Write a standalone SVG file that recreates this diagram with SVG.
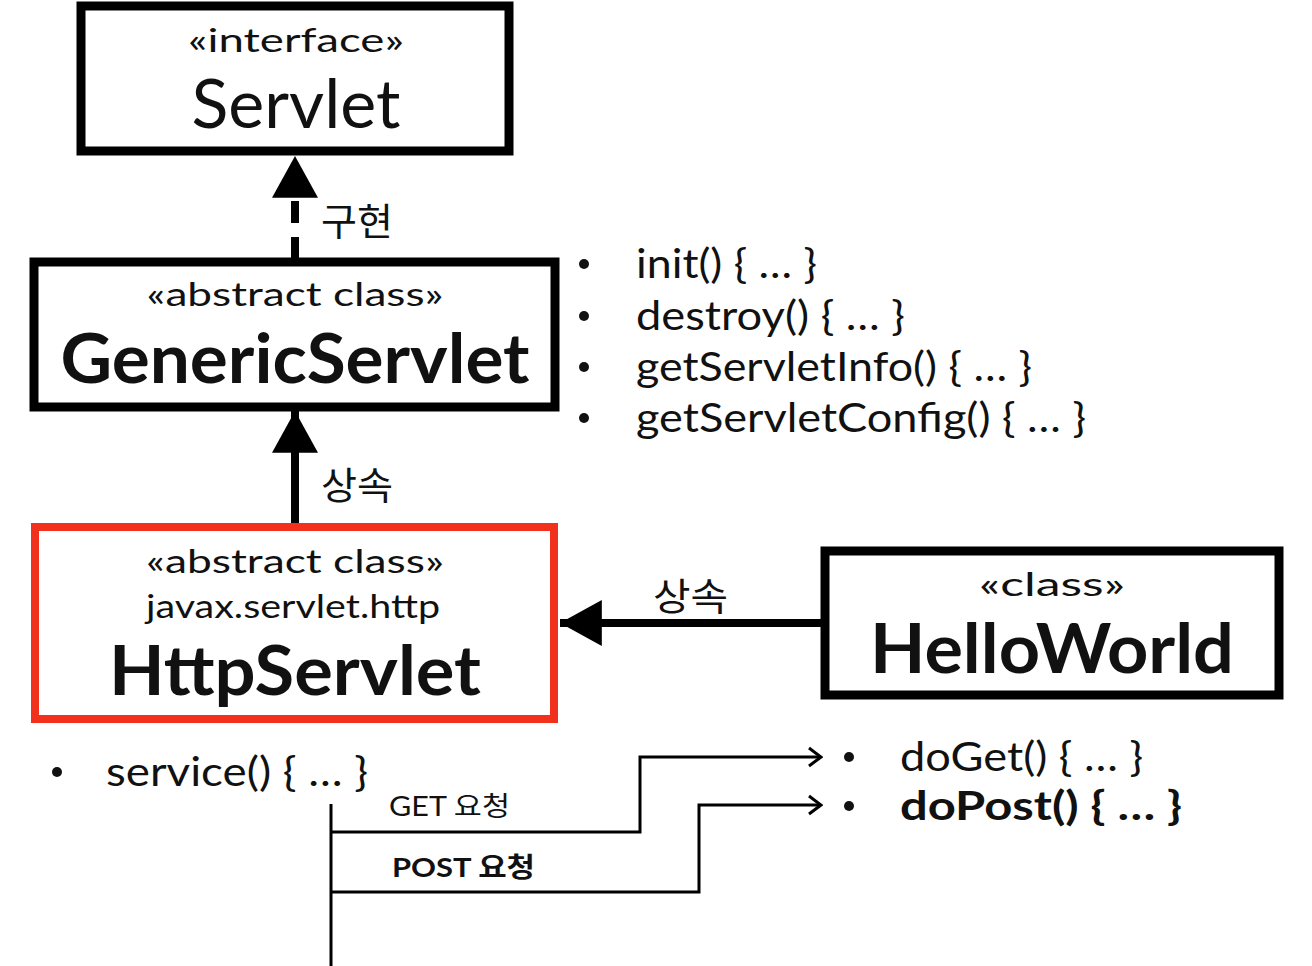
<svg xmlns="http://www.w3.org/2000/svg" width="1312" height="966" viewBox="0 0 1312 966">
<style>
text{font-family:Lato,"Noto Sans","Noto Sans CJK KR",sans-serif;fill:#111;}
.ko{font-family:"Noto Sans CJK KR","Noto Sans",sans-serif;}
.st{font-size:32px;text-anchor:middle;}
.title{font-size:68px;text-anchor:middle;}
.b{font-weight:bold;}
.m{font-size:41px;}
.lbl{font-size:38px;}
.small{font-size:27px;}
.box{fill:#fff;stroke:#000;stroke-width:9;}
.red{fill:#fff;stroke:#f2311c;stroke-width:8;}
.conn{fill:none;stroke:#000;stroke-width:8;}
.thin{fill:none;stroke:#000;stroke-width:3;}
.dot{fill:#111;}
</style>
<defs>
<marker id="tri" markerUnits="userSpaceOnUse" markerWidth="44" markerHeight="46" viewBox="0 0 40 44" refX="40" refY="22" orient="auto">
<path d="M0,0 L40,22 L0,44 Z" fill="#000"/>
</marker>
<marker id="open" markerUnits="userSpaceOnUse" markerWidth="16" markerHeight="22" viewBox="0 0 16 22" refX="14" refY="11" orient="auto">
<path d="M2,2 L14,11 L2,20" fill="none" stroke="#000" stroke-width="3"/>
</marker>
</defs>
<rect width="1312" height="966" fill="#fff"/>

<g id="connectors">
<path class="conn" d="M295,258 V156" stroke-dasharray="21 14 22 14" marker-end="url(#tri)"/>
<path class="conn" d="M295,523 V411" marker-end="url(#tri)"/>
<path class="conn" d="M821,623 H560" marker-end="url(#tri)"/>
<path class="thin" d="M331,804 V966"/>
<path class="thin" d="M331,832 H640 V757 H821" marker-end="url(#open)"/>
<path class="thin" d="M331,892 H699 V805 H821" marker-end="url(#open)"/>
<text class="ko lbl" x="321" y="235" textLength="72" lengthAdjust="spacingAndGlyphs">구현</text>
<text class="ko lbl" x="321" y="499" textLength="72" lengthAdjust="spacingAndGlyphs">상속</text>
<text class="ko lbl" x="653" y="610" textLength="75" lengthAdjust="spacingAndGlyphs">상속</text>
<text class="small" x="389" y="816" textLength="121" lengthAdjust="spacingAndGlyphs">GET <tspan class="ko">요청</tspan></text>
<text class="small b" x="392" y="877" textLength="143" lengthAdjust="spacingAndGlyphs">POST <tspan class="ko">요청</tspan></text>
</g>

<g id="servlet">
<rect class="box" x="81" y="6" width="428" height="145"/>
<text class="st" x="296" y="52" textLength="216" lengthAdjust="spacingAndGlyphs">«interface»</text>
<text class="title" x="296" y="128" textLength="209" lengthAdjust="spacingAndGlyphs">Servlet</text>
</g>

<g id="genericservlet">
<rect class="box" x="34" y="262" width="521" height="145"/>
<text class="st" x="295" y="306" textLength="297" lengthAdjust="spacingAndGlyphs">«abstract class»</text>
<text class="title b" x="295" y="383" textLength="469" lengthAdjust="spacingAndGlyphs">GenericServlet</text>
</g>

<g id="generic-methods">
<circle class="dot" cx="584" cy="264" r="5"/>
<circle class="dot" cx="584" cy="316" r="5"/>
<circle class="dot" cx="584" cy="367" r="5"/>
<circle class="dot" cx="584" cy="418" r="5"/>
<text class="m" x="636" y="278" textLength="181" lengthAdjust="spacingAndGlyphs">init() { … }</text>
<text class="m" x="636" y="330" textLength="269" lengthAdjust="spacingAndGlyphs">destroy() { … }</text>
<text class="m" x="636" y="381" textLength="396" lengthAdjust="spacingAndGlyphs">getServletInfo() { … }</text>
<text class="m" x="636" y="432" textLength="450" lengthAdjust="spacingAndGlyphs">getServletConfig() { … }</text>
</g>

<g id="httpservlet">
<rect class="red" x="35" y="527" width="519" height="192"/>
<text class="st" x="295" y="573" textLength="298" lengthAdjust="spacingAndGlyphs">«abstract class»</text>
<text class="st" x="293" y="618" textLength="294" lengthAdjust="spacingAndGlyphs">javax.servlet.http</text>
<text class="title b" x="295" y="695" textLength="372" lengthAdjust="spacingAndGlyphs">HttpServlet</text>
</g>

<g id="httpservlet-methods">
<circle class="dot" cx="57" cy="772" r="5"/>
<text class="m" x="106" y="786" textLength="262" lengthAdjust="spacingAndGlyphs">service() { … }</text>
<circle class="dot" cx="849" cy="757" r="5"/>
<text class="m" x="900" y="771" textLength="243" lengthAdjust="spacingAndGlyphs">doGet() { … }</text>
<circle class="dot" cx="849" cy="806" r="5"/>
<text class="m b" x="900" y="820" textLength="282" lengthAdjust="spacingAndGlyphs">doPost() { … }</text>
</g>

<g id="helloworld">
<rect class="box" x="825" y="551" width="454" height="144"/>
<text class="st" x="1052" y="596" textLength="146" lengthAdjust="spacingAndGlyphs">«class»</text>
<text class="title b" x="1052" y="673" textLength="364" lengthAdjust="spacingAndGlyphs">HelloWorld</text>
</g>
</svg>
